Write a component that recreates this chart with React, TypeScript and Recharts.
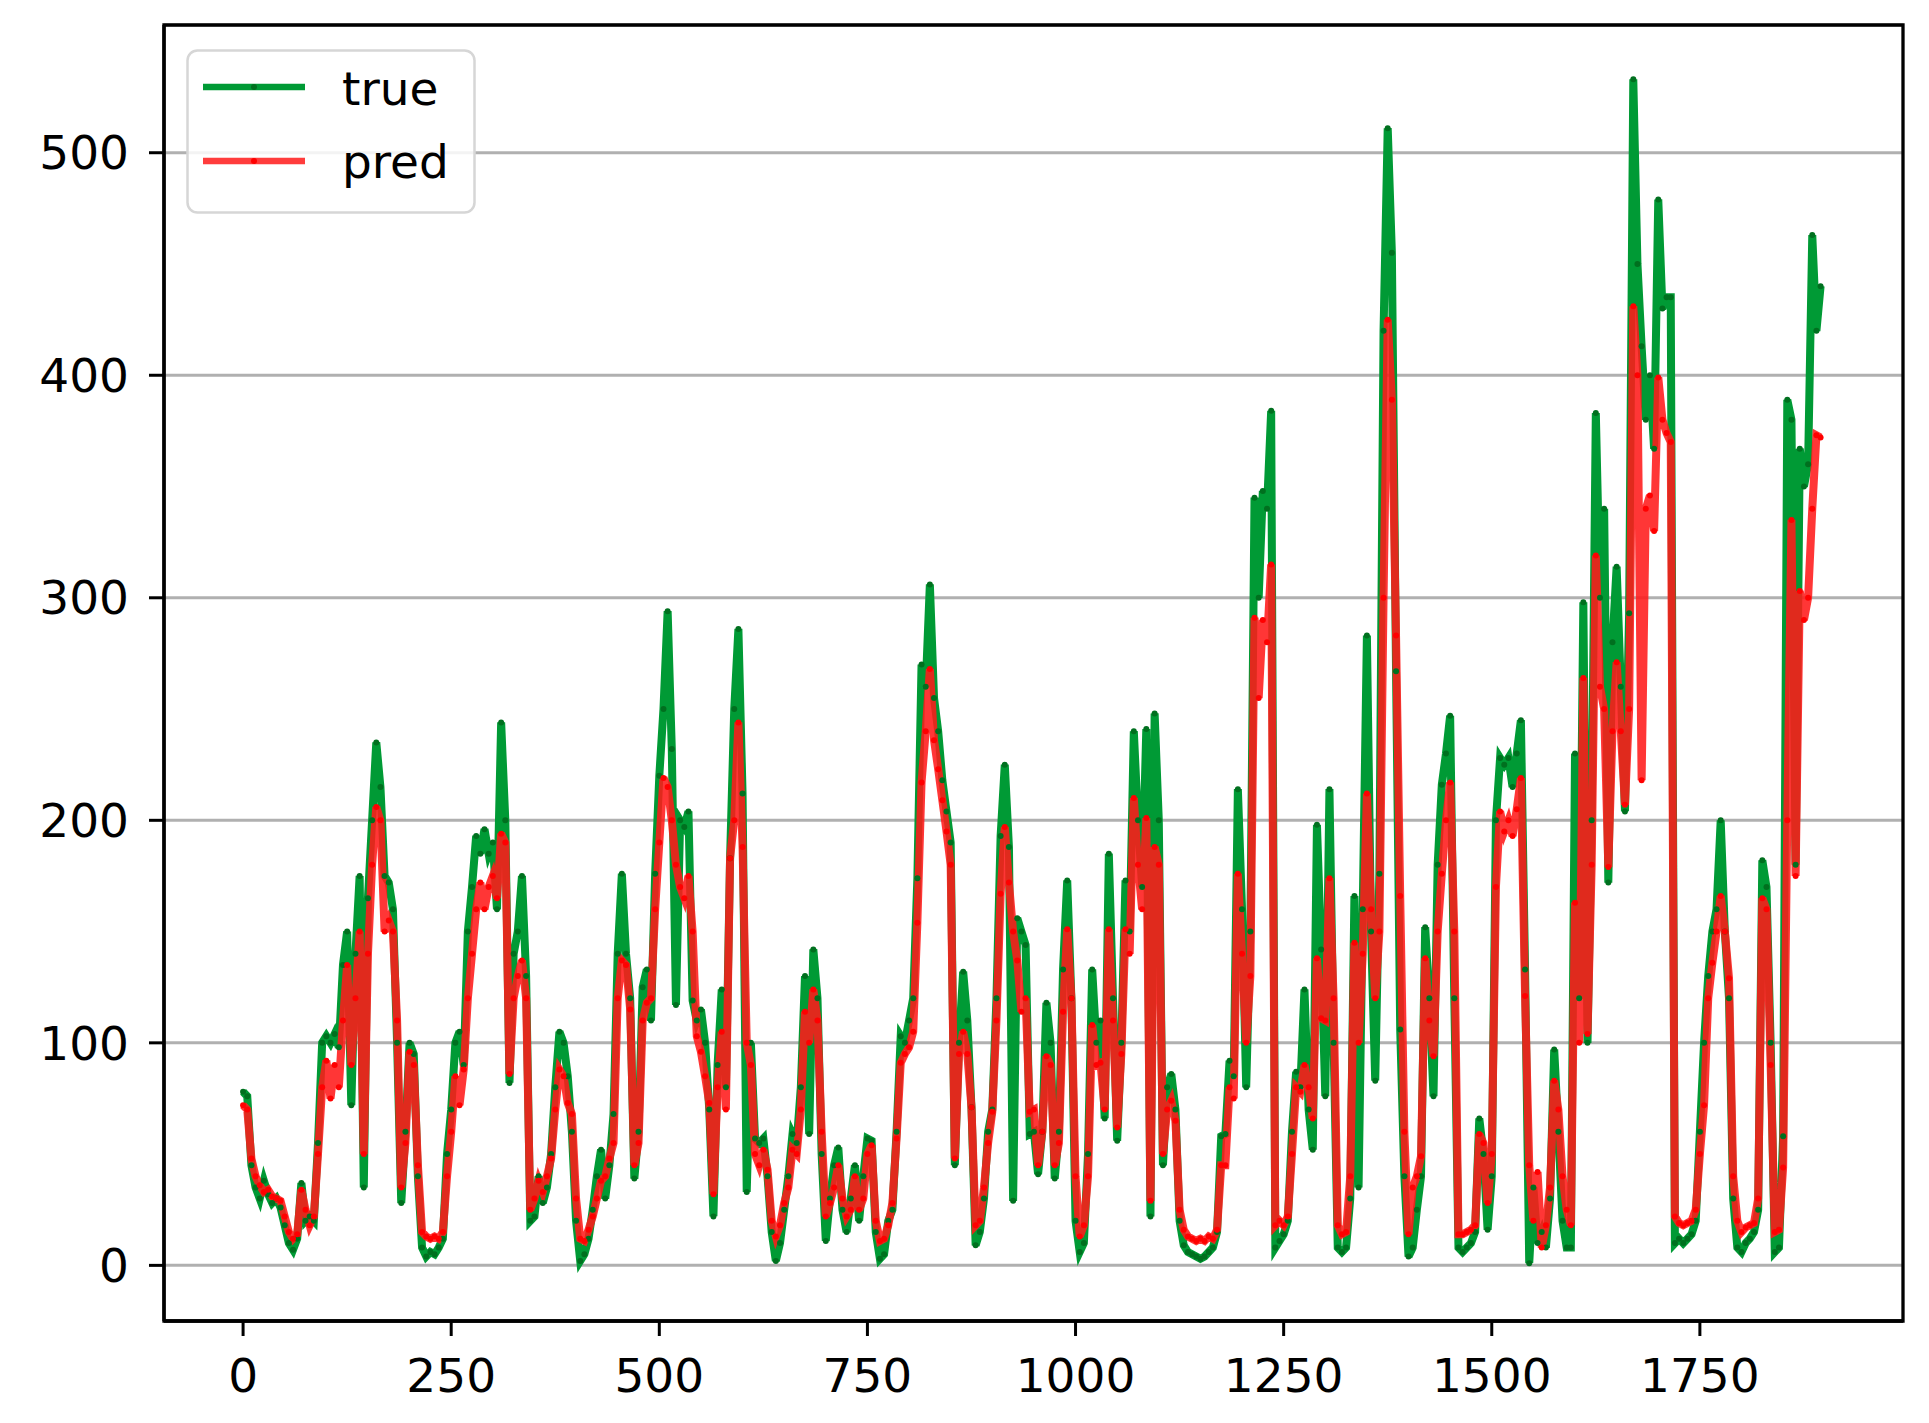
import React from 'react';
import { LineChart, Line, XAxis, YAxis, CartesianGrid, ReferenceArea } from 'recharts';

// samples are taken every STEP index positions of the original series
const STEP = 5;

const trueVals = [
  78, 76, 45, 35, 30, 38, 32, 28, 30, 26,
  18, 10, 7, 12, 37, 20, 22, 20, 55, 100,
  103, 100, 104, 98, 135, 150, 72, 140, 175, 35,
  165, 200, 235, 215, 175, 172, 160, 100, 28, 60,
  100, 95, 40, 8, 4, 6, 5, 8, 12, 50,
  70, 100, 105, 90, 150, 170, 193, 185, 196, 185,
  190, 160, 244, 200, 82, 140, 150, 175, 130, 20,
  22, 40, 28, 35, 50, 80, 105, 100, 85, 60,
  20, 2, 5, 12, 25, 40, 52, 30, 45, 68,
  140, 176, 140, 120, 39, 60, 125, 133, 110, 176,
  220, 250, 294, 232, 117, 200, 197, 204, 119, 110,
  115, 100, 70, 22, 90, 124, 80, 183, 250, 286,
  212, 33, 100, 57, 55, 57, 40, 15, 2, 10,
  25, 40, 59, 55, 80, 130, 59, 142, 120, 50,
  11, 30, 45, 53, 25, 15, 30, 45, 20, 40,
  57, 56, 15, 3, 5, 20, 25, 60, 103, 100,
  110, 120, 174, 270, 260, 306, 255, 240, 218, 204,
  190, 45, 100, 132, 110, 71, 9, 15, 30, 60,
  70, 120, 193, 225, 188, 29, 156, 150, 144, 59,
  60, 41, 60, 118, 100, 39, 60, 133, 173, 120,
  20, 6, 10, 50, 133, 100, 110, 66, 185, 120,
  56, 100, 173, 150, 240, 200, 170, 241, 22, 248,
  200, 45, 80, 86, 70, 20, 9, 6, 5, 4,
  3, 4, 6, 8, 15, 58, 59, 92, 85, 214,
  160, 80, 150, 345, 300, 348, 340, 384, 8, 11,
  14, 20, 60, 87, 80, 124, 70, 52, 198, 142,
  76, 214, 100, 8, 6, 8, 30, 166, 35, 160,
  283, 150, 83, 176, 420, 511, 455, 267, 106, 40,
  4, 8, 25, 40, 152, 120, 76, 180, 216, 230,
  247, 120, 8, 6, 8, 10, 15, 66, 50, 16,
  40, 200, 228, 225, 228, 215, 230, 245, 133, 1,
  35, 10, 15, 8, 30, 97, 60, 20, 8, 8,
  230, 120, 298, 100, 200, 383, 300, 340, 172, 280,
  314, 260, 204, 293, 533, 450, 413, 380, 400, 367,
  479, 430, 435, 435, 10, 12, 10, 12, 14, 20,
  60, 100, 130, 150, 160, 200, 150, 120, 30, 8,
  6, 10, 12, 15, 25, 182, 170, 100, 6, 8,
  58, 389, 380, 180, 367, 350, 360, 463, 420, 440,
];

const predVals = [
  72, 70, 48, 40, 36, 33, 34, 31, 30, 29,
  22, 15, 12, 14, 34, 25, 18, 22, 50, 80,
  92, 75, 90, 80, 110, 135, 90, 120, 150, 50,
  140, 180, 206, 200, 150, 155, 150, 110, 35, 55,
  96, 90, 45, 15, 13, 12, 13, 12, 15, 40,
  60, 85, 72, 88, 120, 140, 160, 172, 160, 170,
  175, 165, 194, 190, 86, 120, 130, 137, 120, 25,
  30, 38, 33, 40, 48, 70, 88, 85, 73, 68,
  30, 12, 11, 16, 22, 30, 38, 40, 48, 55,
  120, 137, 135, 115, 45, 55, 110, 118, 120, 160,
  190, 219, 215, 200, 180, 170, 165, 175, 150, 103,
  96, 85, 73, 32, 80, 105, 70, 183, 200, 244,
  188, 100, 90, 50, 45, 52, 43, 20, 13, 18,
  28, 35, 52, 50, 70, 114, 100, 124, 110, 60,
  22, 28, 35, 45, 30, 22, 25, 40, 25, 30,
  50, 54, 20, 11, 12, 18, 28, 57, 91, 95,
  98, 105, 154, 217, 240, 268, 236, 223, 209, 195,
  180, 48, 95, 105, 95, 71, 18, 20, 35, 55,
  69, 110, 167, 197, 172, 150, 137, 114, 120, 69,
  70, 45, 60, 94, 90, 45, 55, 114, 151, 120,
  40, 13, 18, 40, 108, 90, 91, 70, 151, 110,
  62, 95, 151, 140, 210, 180, 160, 201, 29, 188,
  180, 50, 70, 74, 65, 25, 16, 13, 12, 11,
  12, 11, 13, 12, 16, 45, 45, 80, 75, 176,
  140, 100, 130, 291, 255, 290, 280, 315, 18, 20,
  18, 22, 50, 80, 78, 90, 80, 66, 138, 111,
  110, 174, 120, 18, 14, 15, 40, 145, 100, 140,
  212, 160, 120, 150, 300, 425, 389, 283, 166, 60,
  14, 35, 40, 49, 138, 110, 94, 150, 176, 200,
  217, 150, 14, 14, 15, 16, 18, 59, 55, 28,
  50, 170, 204, 195, 200, 193, 205, 219, 121, 45,
  20, 42, 8, 18, 35, 83, 70, 40, 25, 18,
  163, 100, 264, 104, 180, 319, 260, 250, 179, 240,
  271, 240, 207, 250, 431, 400, 218, 340, 346, 330,
  399, 380, 374, 370, 22, 19, 18, 19, 20, 25,
  50, 72, 120, 136, 150, 166, 150, 129, 40, 20,
  15, 17, 18, 19, 30, 165, 160, 90, 15, 16,
  44, 200, 335, 175, 303, 290, 300, 340, 373, 372,
];

const seriesNames = ['true', 'pred'];
const xTicks = [0, 250, 500, 750, 1000, 1250, 1500, 1750];
const yTicks = [0, 100, 200, 300, 400, 500];

const X_DOMAIN: [number, number] = [-95, 1994];
const Y_DOMAIN: [number, number] = [-25, 557.4];

const GREEN = '#009a35';
const GREEN_DOT = '#00701f';
const RED = '#ff1a1a';
const RED_DOT = '#ff0000';

const data = trueVals.map((t, i) => ({ idx: i * STEP, trueV: t, pred: predVals[i] }));

const tickStyle = { fontSize: 47, fill: '#000' };

const LegendBox = () => (
  <svg width={292} height={166} style={{ position: 'absolute', left: 178, top: 41 }}>
    <rect x={1.5} y={1.5} width={287} height={162} rx={10} fill="#fff" fillOpacity={0.85} stroke="#d6d6d6" strokeWidth={2.5} />
    <line x1={17} x2={119} y1={38} y2={38} stroke={GREEN} strokeWidth={6.5} />
    <circle cx={68} cy={38} r={3} fill={GREEN_DOT} />
    <text x={156} y={56} fontSize={47} fill="#000">{seriesNames[0]}</text>
    <line x1={17} x2={119} y1={112} y2={112} stroke={RED} strokeOpacity={0.85} strokeWidth={6.5} />
    <circle cx={68} cy={112} r={3} fill={RED_DOT} />
    <text x={156} y={129} fontSize={47} fill="#000">{seriesNames[1]}</text>
  </svg>
);

export default function App() {
  return (
    <div style={{ position: 'relative', width: 1913, height: 1407, fontFamily: '"DejaVu Sans", sans-serif', background: '#fff' }}>
      <LineChart width={1913} height={1407} data={data} margin={{ top: 17, right: 18, left: 0, bottom: 0 }}>
        <CartesianGrid vertical={false} stroke="#b0b0b0" strokeWidth={3} />
        <XAxis
          dataKey="idx"
          type="number"
          domain={X_DOMAIN}
          ticks={xTicks}
          allowDataOverflow
          height={94}
          tick={tickStyle}
          tickSize={15}
          tickMargin={23}
          axisLine={{ stroke: '#000', strokeWidth: 3.3 }}
          tickLine={{ stroke: '#000', strokeWidth: 3 }}
        />
        <YAxis
          type="number"
          domain={Y_DOMAIN}
          ticks={yTicks}
          allowDataOverflow
          width={156}
          tick={tickStyle}
          tickSize={15}
          tickMargin={20}
          axisLine={{ stroke: '#000', strokeWidth: 3.3 }}
          tickLine={{ stroke: '#000', strokeWidth: 3 }}
        />
        <Line
          type="linear"
          dataKey="trueV"
          name={seriesNames[0]}
          stroke={GREEN}
          strokeWidth={8}
          strokeLinejoin="miter"
          dot={{ r: 3, fill: GREEN_DOT, stroke: 'none' }}
          activeDot={false}
          isAnimationActive={false}
        />
        <Line
          type="linear"
          dataKey="pred"
          name={seriesNames[1]}
          stroke={RED}
          strokeOpacity={0.88}
          strokeWidth={8}
          strokeLinejoin="miter"
          dot={{ r: 3, fill: RED_DOT, stroke: 'none' }}
          activeDot={false}
          isAnimationActive={false}
        />
        <ReferenceArea
          x1={X_DOMAIN[0]}
          x2={X_DOMAIN[1]}
          y1={Y_DOMAIN[0]}
          y2={Y_DOMAIN[1]}
          fill="none"
          stroke="#000"
          strokeWidth={3.3}
          ifOverflow="visible"
        />
      </LineChart>
      <LegendBox />
    </div>
  );
}
